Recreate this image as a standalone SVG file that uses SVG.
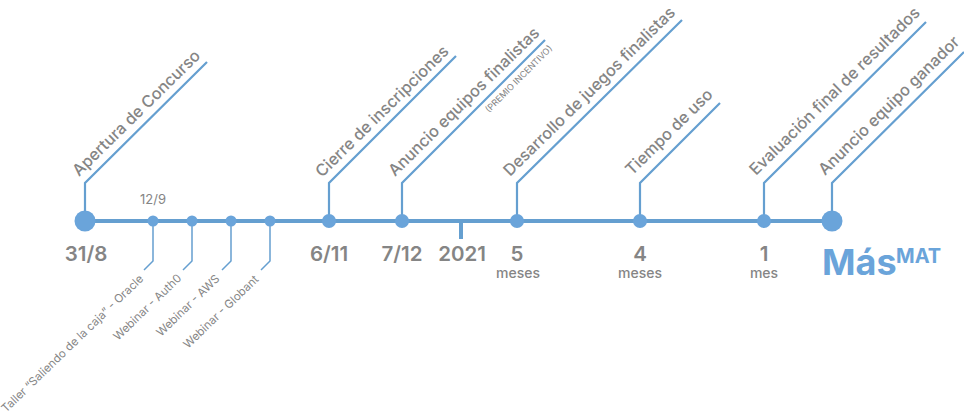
<svg xmlns="http://www.w3.org/2000/svg" width="964" height="416" viewBox="0 0 964 416">
<style>
text{font-family:Inter,"Liberation Sans",sans-serif;fill:#858585}
.l{fill:none;stroke:#659fd0;stroke-width:2.2}
.s{fill:none;stroke:#659fd0;stroke-width:1.5}
.n{fill:#6aa4da}
.d{font-size:20.5px;font-weight:600;text-anchor:middle}
.m{font-size:14px;font-weight:500;text-anchor:middle}
.r{font-size:16.2px;font-weight:500}
.t{font-size:11.5px}
</style>
<rect width="964" height="416" fill="#fff"/>
<g id="connectors">
<path d="M85 221H832" fill="none" stroke="#659fd0" stroke-width="4"/>
<path class="l" d="M85 221V183L207 62"/>
<path class="l" d="M329 221V183L456 56"/>
<path class="l" d="M402 221V183L545 40"/>
<path class="l" d="M517 221V183L682 20"/>
<path class="l" d="M640 221V183L720 103"/>
<path class="l" d="M764 221V183L926 22"/>
<path class="l" d="M832 221V183L964 52"/>
<path class="s" d="M153 221V261L144 270"/>
<path class="s" d="M192 221V261L183 270"/>
<path class="s" d="M231 221V261L222 270"/>
<path class="s" d="M270 221V261L261 270"/>
<path d="M461 221V239" fill="none" stroke="#659fd0" stroke-width="4"/>
</g>
<g id="n1"><circle class="n" cx="85" cy="221" r="10.5"/><text class="d" x="86" y="261">31/8</text><text class="r" transform="translate(79 177) rotate(-44.5)">Apertura de Concurso</text></g>
<g id="n2"><circle class="n" cx="153" cy="221" r="5.5"/><text x="153" y="204" font-size="13" text-anchor="middle">12/9</text><text class="t" transform="translate(6 413) rotate(-44)">Taller “Saliendo de la caja” - Oracle</text></g>
<g id="n3"><circle class="n" cx="192" cy="221" r="5.5"/><text class="t" transform="translate(118 341) rotate(-44)">Webinar - Auth0</text></g>
<g id="n4"><circle class="n" cx="231" cy="221" r="5.5"/><text class="t" transform="translate(161 337) rotate(-44)">Webinar - AWS</text></g>
<g id="n5"><circle class="n" cx="270" cy="221" r="5.5"/><text class="t" transform="translate(188 349) rotate(-44)">Webinar - Globant</text></g>
<g id="n6"><circle class="n" cx="329" cy="221" r="7"/><text class="d" x="329" y="261">6/11</text><text class="r" transform="translate(322 178) rotate(-44.5)">Cierre de inscripciones</text></g>
<g id="n7"><circle class="n" cx="402" cy="221" r="7"/><text class="d" x="402" y="261">7/12</text><text class="r" transform="translate(395 177) rotate(-44.5)">Anuncio equipos finalistas</text><text font-size="8.8" transform="translate(489 113) rotate(-45)">(PREMIO INCENTIVO)</text></g>
<g id="n8"><text class="d" x="462" y="261">2021</text></g>
<g id="n9"><circle class="n" cx="517" cy="221" r="7"/><text class="d" x="517" y="261">5</text><text class="m" x="518" y="278">meses</text><text class="r" transform="translate(510 177) rotate(-44.5)">Desarrollo de juegos finalistas</text></g>
<g id="n10"><circle class="n" cx="640" cy="221" r="7"/><text class="d" x="640" y="261">4</text><text class="m" x="640" y="278">meses</text><text class="r" transform="translate(632 176) rotate(-44.5)">Tiempo de uso</text></g>
<g id="n11"><circle class="n" cx="764" cy="221" r="7"/><text class="d" x="764" y="261">1</text><text class="m" x="764" y="278">mes</text><text class="r" transform="translate(756 176) rotate(-44.5)">Evaluación final de resultados</text></g>
<g id="n12"><circle class="n" cx="832" cy="221" r="10.5"/><text class="r" transform="translate(825 176) rotate(-44.5)">Anuncio equipo ganador</text><text x="822" y="275" font-size="36" font-weight="700" style="fill:#6aa4da">Más</text><text x="896" y="263" font-size="20" font-weight="700" style="fill:#6aa4da">MAT</text></g>
</svg>
